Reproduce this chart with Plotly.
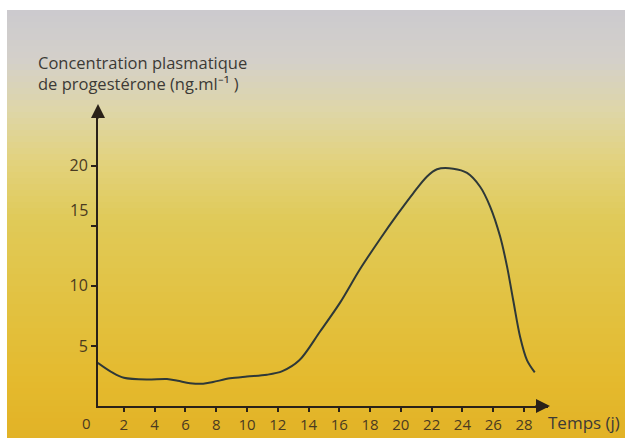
import plotly.graph_objects as go

# ---- data ----
days = [0.3, 1.3, 2.0, 3.5, 4.8, 5.5, 6.3, 7.15, 7.8, 8.9, 10.0, 11.3, 12.3, 13.4,
        14.75, 16.05, 17.35, 18.65, 19.75, 20.8, 21.7, 22.35, 23.4, 24.3, 25.15,
        25.8, 26.45, 26.9, 27.3, 27.75, 28.2, 28.7]
progesterone = [3.6, 2.75, 2.35, 2.2, 2.25, 2.1, 1.9, 1.85, 2.0, 2.3, 2.45, 2.6, 2.9, 3.8,
                6.2, 8.6, 11.4, 13.9, 15.9, 17.7, 19.1, 19.7, 19.75, 19.4, 18.25,
                16.6, 14.1, 11.6, 8.8, 5.75, 3.8, 2.8]
x_ticks = [2, 4, 6, 8, 10, 12, 14, 16, 18, 20, 22, 24, 26, 28]
y_ticks = [5, 10, 15, 20]
y_ticktext = ["5", "10", "", "20"]

W, H = 625, 442
AX = "#2a2118"
TXT = "#3c3a36"
NUM = "#4a3a20"
FONT = "Open Sans"

def px_x(p):
    return p / W

def px_y(p):
    return (H - p) / H

fig = go.Figure()
fig.add_trace(go.Scatter(
    x=days, y=progesterone, mode="lines",
    line=dict(color="#2e3838", width=2, shape="spline", smoothing=0.9),
    hoverinfo="skip", showlegend=False))

# ---- background gradient (styling) ----
stops = [(10, (204, 202, 206)), (60, (212, 208, 202)), (110, (222, 214, 168)),
         (160, (226, 210, 126)), (220, (224, 202, 88)), (300, (226, 194, 66)),
         (380, (228, 186, 46)), (438, (226, 178, 38))]
shapes = []
def col_at(yp):
    for (y0, c0), (y1, c1) in zip(stops[:-1], stops[1:]):
        if y0 <= yp <= y1:
            t = (yp - y0) / (y1 - y0)
            return tuple(int(round(a + (b - a) * t)) for a, b in zip(c0, c1))
    return stops[-1][1]
step = 6
yp = 10
while yp < 438:
    y2 = min(yp + step, 438)
    c = col_at((yp + y2) / 2)
    shapes.append(dict(type="rect", xref="paper", yref="paper", layer="below",
                       x0=px_x(7), x1=1, y0=px_y(y2), y1=px_y(yp),
                       fillcolor="rgb(%d,%d,%d)" % c, line=dict(width=0)))
    yp = y2

annotations = [
    dict(text="Concentration plasmatique<br>de progestérone (ng.ml\u207b\u00b9 )",
         xref="paper", yref="paper", x=px_x(36), y=px_y(49), xanchor="left", yanchor="top",
         align="left", showarrow=False, font=dict(family=FONT, size=16.5, color=TXT)),
    dict(text="Temps (j)", xref="paper", yref="paper", x=px_x(546), y=px_y(422),
         xanchor="left", yanchor="middle", showarrow=False,
         font=dict(family=FONT, size=17, color=TXT)),
    dict(text="0", xref="paper", yref="paper", x=px_x(86), y=px_y(423),
         xanchor="center", yanchor="middle", showarrow=False,
         font=dict(family=FONT, size=15, color=NUM)),
    dict(text="15", xref="paper", yref="paper", x=px_x(90), y=px_y(210),
         xanchor="right", yanchor="middle", showarrow=False,
         font=dict(family=FONT, size=16, color=NUM)),
    # axis arrowheads
    dict(text="", xref="paper", yref="paper", x=px_x(98), y=px_y(104),
         ax=0, ay=16, showarrow=True, arrowhead=2, arrowsize=1.4, arrowwidth=2,
         arrowcolor=AX),
    dict(text="", xref="paper", yref="paper", x=px_x(550), y=px_y(406),
         ax=-16, ay=0, showarrow=True, arrowhead=2, arrowsize=1.4, arrowwidth=2,
         arrowcolor=AX),
]

fig.update_layout(
    width=W, height=H, margin=dict(l=0, r=0, t=0, b=0),
    paper_bgcolor="white", plot_bgcolor="rgba(0,0,0,0)",
    shapes=shapes, annotations=annotations,
    xaxis=dict(domain=[px_x(98), px_x(548)], range=[0.32, 29.56], anchor="y",
               showline=True, linecolor=AX, linewidth=2, ticks="outside", ticklen=4,
               tickwidth=1.5, tickcolor=AX, tickvals=x_ticks, showgrid=False, zeroline=False,
               tickfont=dict(family=FONT, size=15, color=NUM)),
    yaxis=dict(domain=[px_y(406), px_y(108)], range=[0, 24.8], anchor="x",
               showline=True, linecolor=AX, linewidth=2, ticks="outside", ticklen=5,
               tickwidth=1.5, tickcolor=AX, tickvals=y_ticks, ticktext=y_ticktext,
               showgrid=False, zeroline=False,
               tickfont=dict(family=FONT, size=16, color=NUM)),
)

fig.write_html("out.html", config={"displayModeBar": False},
               post_script="document.body.style.margin='0';document.body.style.overflow='hidden';")
